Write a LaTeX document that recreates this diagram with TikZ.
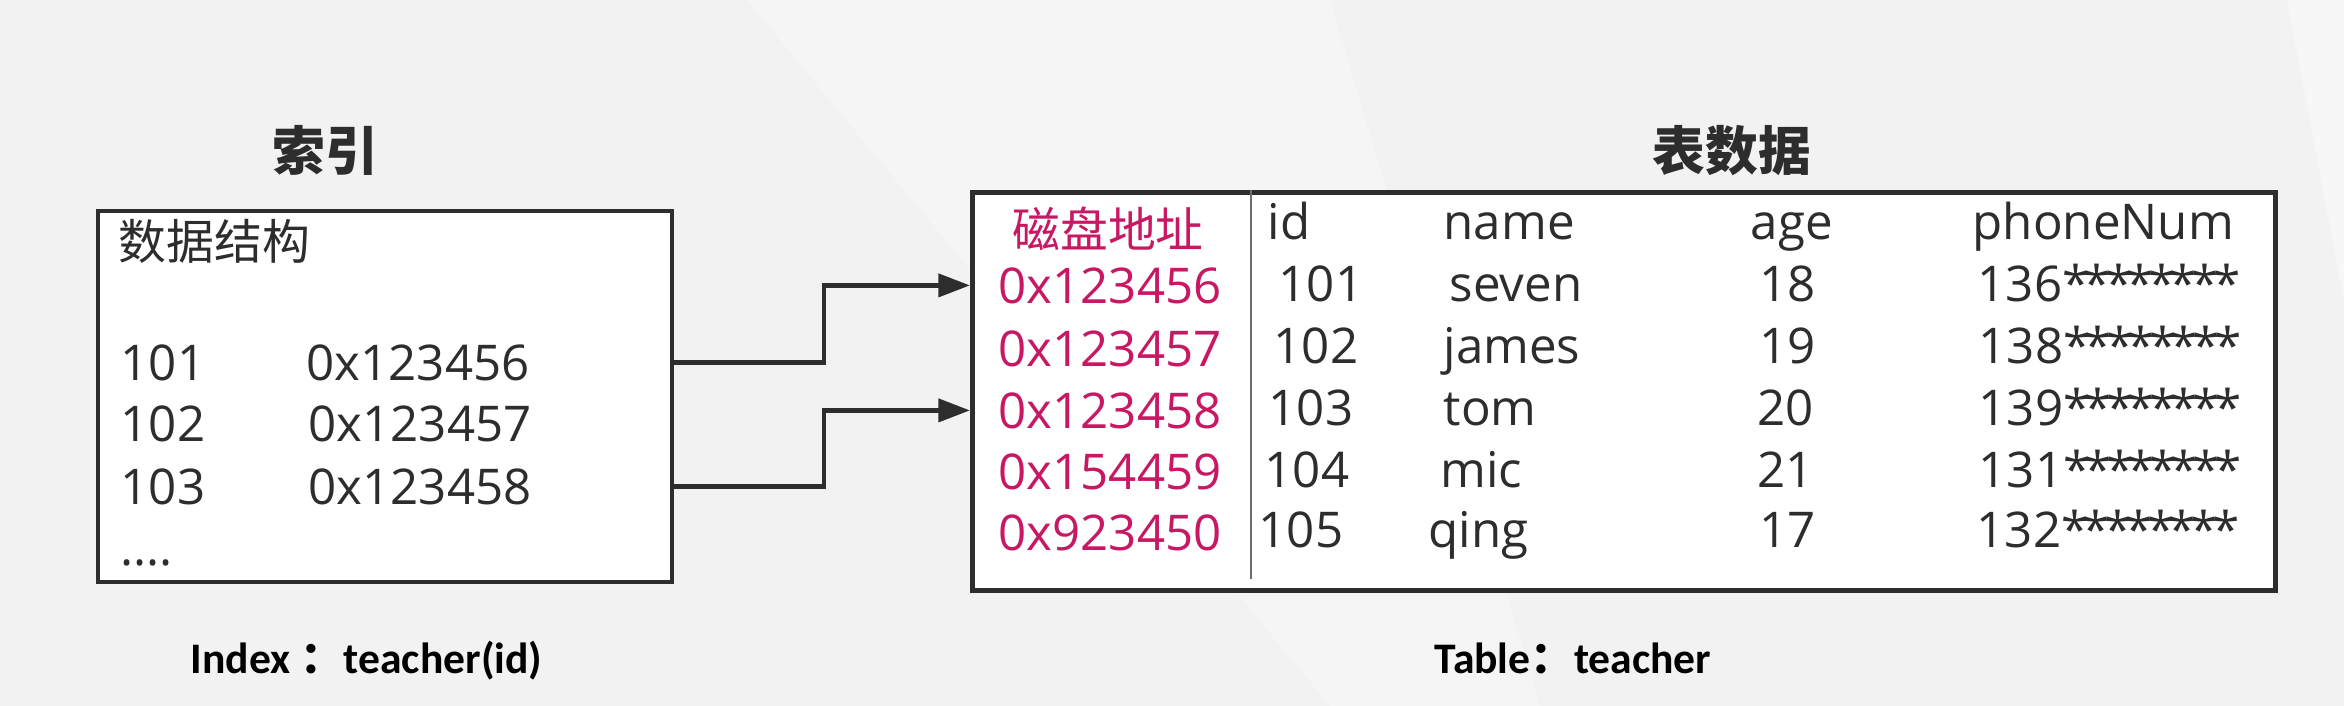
\documentclass[tikz,border=0pt]{standalone}
\usepackage{fontspec}
\setmainfont{Open Sans}
\newfontfamily\cjk{Noto Sans CJK SC}
\newfontfamily\capfont{Carlito}
\usetikzlibrary{arrows.meta}
\definecolor{inkgray}{RGB}{45,45,45}
\definecolor{addrpink}{RGB}{200,24,100}
\definecolor{bggray}{RGB}{242,242,242}
\newcommand\pstar{*\kern-1.6pt}
\newcommand\pstars{\pstar\pstar\pstar\pstar\pstar\pstar\pstar\pstar}
\tikzset{
  tab_box/.style = {draw=inkgray, line width=1.2pt, fill=white,
    inner sep=0pt, anchor=north west},% cadre
  tab_txt/.style = {anchor=base west, inner sep=0pt, text=inkgray,
    font=\fontsize{14}{16}\selectfont},% texte de cellule
  tab_cjk/.style = {tab_txt, font=\cjk\fontsize{13.6}{16}\selectfont},% texte chinois
  tab_addr/.style = {tab_txt, text=addrpink},% adresse disque
  tab_title/.style = {anchor=base, inner sep=0pt, text=inkgray,
    font=\cjk\bfseries\fontsize{15}{18}\selectfont},% titre
  tab_cap/.style = {anchor=base west, inner sep=0pt, text=black,
    font=\capfont\bfseries\fontsize{12.4}{15}\selectfont},% legende
  link/.style = {draw=inkgray, line width=1.3pt, ->}% fleche
}

\begin{document}
\begin{tikzpicture}[x=0.01cm, y=-0.01cm, >={Triangle[length=9pt,width=6.5pt]}]
% fond
\fill[bggray] (0,0) rectangle (2344,706);
\fill[white, opacity=0.25] (747,0) -- (1330,0) -- (1540,706) -- (1330,706) -- cycle;
\fill[white, opacity=0.4] (2287,0) -- (2344,0) -- (2344,300) -- cycle;

% titres
\node [tab_title] (t_idx) at (325,170) {索引};
\node [tab_title] (t_tab) at (1732,170) {表数据};

% index
\node [tab_box, line width=1.1pt, minimum width=5.74cm, minimum height=3.71cm] (lbox) at (96,209) {};
\node [tab_cjk] (ds) at (118,259) {数据结构};
\node [tab_txt] (k1) at (120,380) {101};
\node [tab_txt] (p1) at (306,380) {0x123456};
\node [tab_txt] (k2) at (120,441) {102};
\node [tab_txt] (p2) at (308,441) {0x123457};
\node [tab_txt] (k3) at (120,504) {103};
\node [tab_txt] (p3) at (308,504) {0x123458};
\node [tab_txt] (kdots) at (120,565) {....};

% table
\node [tab_box, line width=1.4pt, minimum width=13.02cm, minimum height=3.98cm] (tbox) at (970,190) {};
\draw [inkgray!70, line width=0.5pt] (tbox.north west) ++(281,0) -- ++(0,389);
\node [tab_cjk, anchor=base, text=addrpink] (h_addr) at (1108,247) {磁盘地址};
\node [tab_txt] (h_id) at (1267,239) {id};
\node [tab_txt] (h_name) at (1443,239) {name};
\node [tab_txt] (h_age) at (1750,239) {age};
\node [tab_txt] (h_phone) at (1972,239) {phoneNum};

\node [tab_addr] (a1) at (998,303) {0x123456};
\node [tab_txt] (r1_id) at (1278,301) {101};
\node [tab_txt] (r1_name) at (1449,301) {seven};
\node [tab_txt] (r1_age) at (1759,301) {18};
\node [tab_txt] (r1_phone) at (1977,301) {136\pstars};

\node [tab_addr] (a2) at (998,366) {0x123457};
\node [tab_txt] (r2_id) at (1273,363) {102};
\node [tab_txt] (r2_name) at (1443,363) {james};
\node [tab_txt] (r2_age) at (1759,363) {19};
\node [tab_txt] (r2_phone) at (1978,363) {138\pstars};

\node [tab_addr] (a3) at (998,428) {0x123458};
\node [tab_txt] (r3_id) at (1268,425) {103};
\node [tab_txt] (r3_name) at (1443,425) {tom};
\node [tab_txt] (r3_age) at (1757,425) {20};
\node [tab_txt] (r3_phone) at (1978,425) {139\pstars};

\node [tab_addr] (a4) at (998,489) {0x154459};
\node [tab_txt] (r4_id) at (1264,487) {104};
\node [tab_txt] (r4_name) at (1440,487) {mic};
\node [tab_txt] (r4_age) at (1757,487) {21};
\node [tab_txt] (r4_phone) at (1978,487) {131\pstars};

\node [tab_addr] (a5) at (998,550) {0x923450};
\node [tab_txt] (r5_id) at (1258,547) {105};
\node [tab_txt] (r5_name) at (1428,547) {qing};
\node [tab_txt] (r5_age) at (1759,547) {17};
\node [tab_txt] (r5_phone) at (1976,547) {132\pstars};

% fleches
\draw [link] (k1 -| lbox.east) -- ++(150,0) |- (a1 -| tbox.west);
\draw [link] (k3 -| lbox.east) -- ++(150,0) |- (a3 -| tbox.west);

% legendes
\node [tab_cap] (c_idx) at (190,673) {Index {\cjk\bfseries ：}teacher(id)};
\node [tab_cap] (c_tab) at (1434,673) {Table{\cjk\bfseries ：}teacher};
\end{tikzpicture}
\end{document}
